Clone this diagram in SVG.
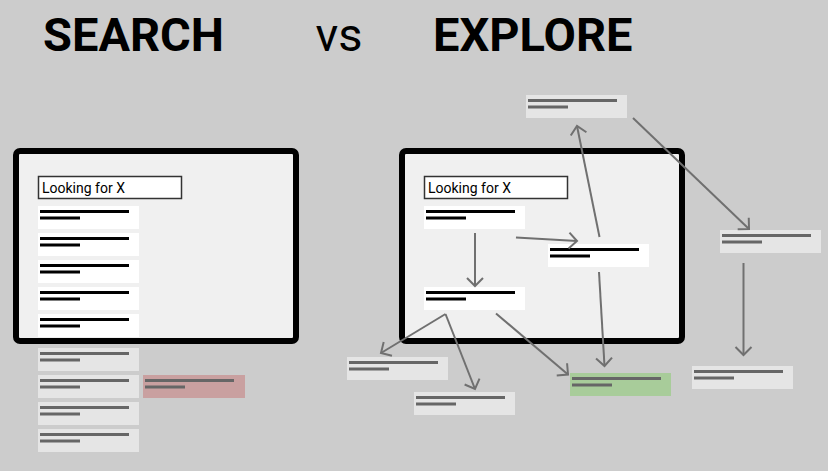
<svg xmlns="http://www.w3.org/2000/svg" width="828" height="471" viewBox="0 0 828 471">
<defs>
<style>
.title{font-family:Roboto,"Liberation Sans",sans-serif;font-size:47px;fill:#000}
.b{font-weight:bold}
.panel{fill:#f0f0f0;stroke:#000;stroke-width:6}
.sbox{fill:#fff;stroke:#333;stroke-width:1.5}
.stxt{font-family:Roboto,"Liberation Sans",sans-serif;font-size:14px;fill:#000}
.cw{fill:#fff}
.cg{fill:#e5e5e5}
.cr{fill:#c9a0a0}
.cgr{fill:#a8cc9a}
.lk{stroke:#000;stroke-width:3}
.lg{stroke:#666;stroke-width:3}
.conn{stroke:#707070;stroke-width:2;fill:none;marker-end:url(#arr)}
</style>
<marker id="arr" markerUnits="userSpaceOnUse" markerWidth="20" markerHeight="20" refX="10" refY="10" orient="auto" viewBox="0 0 20 20">
<path d="M2,2 L10,10 L2,18" fill="none" stroke="#707070" stroke-width="2"/>
</marker>
<g id="lk"><line class="lk" x1="2" y1="5.5" x2="91" y2="5.5"/><line class="lk" x1="2" y1="12" x2="42" y2="12"/></g>
<g id="lg"><line class="lg" x1="2" y1="5.5" x2="91" y2="5.5"/><line class="lg" x1="2" y1="12" x2="42" y2="12"/></g>
</defs>
<rect width="828" height="471" fill="#cccccc"/>

<g id="titles">
<text class="title b" x="43" y="51">SEARCH</text>
<text class="title" x="315.5" y="51">vs</text>
<text class="title b" x="433" y="51">EXPLORE</text>
</g>

<g id="search">
<rect class="panel" x="16" y="151" width="280" height="190" rx="4"/>
<rect class="sbox" x="38.5" y="176.5" width="143" height="22"/>
<text class="stxt" x="42" y="193">Looking for X</text>
<g transform="translate(38,206)"><rect class="cw" width="101" height="23"/><use href="#lk"/></g>
<g transform="translate(38,233)"><rect class="cw" width="101" height="23"/><use href="#lk"/></g>
<g transform="translate(38,260)"><rect class="cw" width="101" height="23"/><use href="#lk"/></g>
<g transform="translate(38,287)"><rect class="cw" width="101" height="23"/><use href="#lk"/></g>
<g transform="translate(38,314)"><rect class="cw" width="101" height="23"/><use href="#lk"/></g>
<g transform="translate(38,348)"><rect class="cg" width="101" height="23"/><use href="#lg"/></g>
<g transform="translate(38,375)"><rect class="cg" width="101" height="23"/><use href="#lg"/></g>
<g transform="translate(38,402)"><rect class="cg" width="101" height="23"/><use href="#lg"/></g>
<g transform="translate(38,429)"><rect class="cg" width="101" height="23"/><use href="#lg"/></g>
<g id="search-hit" transform="translate(143,375)"><rect class="cr" width="102" height="23"/><use href="#lg"/></g>
</g>

<g id="explore-panel">
<rect class="panel" x="402" y="151" width="280" height="190" rx="4"/>
<rect class="sbox" x="424.5" y="176.5" width="143" height="22"/>
<text class="stxt" x="428" y="193">Looking for X</text>
</g>
<g id="nodeA" transform="translate(424,206)"><rect class="cw" width="101" height="23"/><use href="#lk"/></g>
<g id="nodeB" transform="translate(424,287)"><rect class="cw" width="101" height="23"/><use href="#lk"/></g>
<g id="nodeC" transform="translate(548,244)"><rect class="cw" width="101" height="23"/><use href="#lk"/></g>
<g id="nodeT" transform="translate(526,95)"><rect class="cg" width="101" height="23"/><use href="#lg"/></g>
<g id="nodeR" transform="translate(720,230)"><rect class="cg" width="101" height="23"/><use href="#lg"/></g>
<g id="nodeBR" transform="translate(692,366)"><rect class="cg" width="101" height="23"/><use href="#lg"/></g>
<g id="nodeL1" transform="translate(347,357)"><rect class="cg" width="101" height="23"/><use href="#lg"/></g>
<g id="nodeL2" transform="translate(414,392)"><rect class="cg" width="101" height="23"/><use href="#lg"/></g>
<g id="nodeG" transform="translate(570,373)"><rect class="cgr" width="101" height="23"/><use href="#lg"/></g>

<g id="connectors">
<line class="conn" x1="475" y1="233" x2="475" y2="286"/>
<line class="conn" x1="516" y1="237.5" x2="577" y2="241"/>
<line class="conn" x1="599.5" y1="237" x2="577" y2="126"/>
<line class="conn" x1="633" y1="118" x2="749" y2="229"/>
<line class="conn" x1="743.5" y1="263" x2="743.5" y2="355"/>
<line class="conn" x1="599" y1="272" x2="604.5" y2="366"/>
<line class="conn" x1="496" y1="313.5" x2="568" y2="374.5"/>
<line class="conn" x1="445.5" y1="314" x2="381" y2="353"/>
<line class="conn" x1="445.5" y1="314" x2="475" y2="389"/>
</g>
</svg>
